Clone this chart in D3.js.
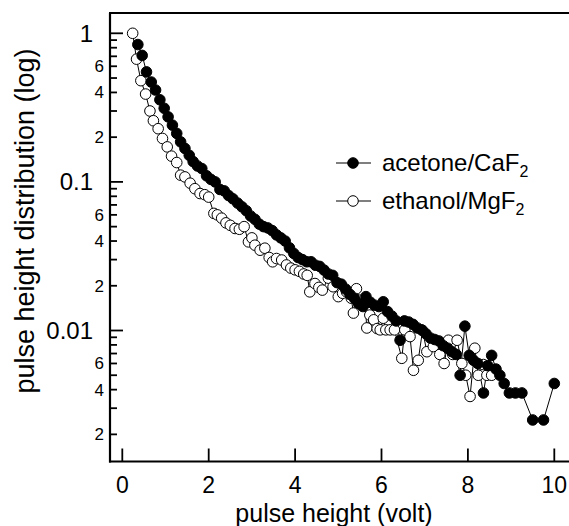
<!DOCTYPE html>
<html>
<head>
<meta charset="utf-8">
<script src="https://cdn.jsdelivr.net/npm/d3@7"></script>
<style>
  body { margin: 0; background: #fff; }
  svg { display: block; font-family: "Liberation Sans", Arial, Helvetica, sans-serif; }
</style>
</head>
<body>
<svg width="569" height="526"></svg>
<script>
"use strict"

// acetone / CaF2 (filled) : [pulse height (V), distribution]
const acetone = [
  [0.36,0.84],[0.46,0.71],[0.56,0.55],[0.67,0.47],[0.77,0.415],[0.87,0.357],[0.97,0.313],
  [1.06,0.274],[1.16,0.241],[1.26,0.212],[1.35,0.186],[1.45,0.168],[1.55,0.151],[1.64,0.137],
  [1.74,0.128],[1.84,0.123],[1.95,0.11],[2.05,0.104],[2.15,0.1],[2.26,0.089],[2.36,0.087],
  [2.46,0.081],[2.56,0.077],[2.67,0.072],[2.77,0.068],[2.87,0.064],[2.97,0.059],[3.07,0.056],
  [3.17,0.052],[3.27,0.05],[3.37,0.049],[3.47,0.047],[3.57,0.044],[3.67,0.042],[3.77,0.04],
  [3.87,0.036],[3.97,0.033],[4.07,0.031],[4.17,0.03],[4.27,0.029],[4.37,0.029],[4.47,0.0275],
  [4.57,0.027],[4.67,0.0255],[4.77,0.024],[4.87,0.0235],[4.97,0.021],[5.07,0.0205],[5.17,0.019],
  [5.27,0.0175],[5.37,0.0165],[5.47,0.0152],[5.57,0.0145],[5.64,0.0169],[5.74,0.0155],[5.84,0.0148],
  [5.94,0.0145],[6.04,0.0156],[6.14,0.0134],[6.24,0.0125],[6.34,0.0116],[6.43,0.0086],[6.53,0.0116],
  [6.63,0.0114],[6.73,0.011],[6.83,0.0104],[6.93,0.0101],[7.03,0.0095],[7.13,0.0089],[7.23,0.0087],
  [7.33,0.0085],[7.43,0.0079],[7.53,0.0076],[7.63,0.0072],[7.73,0.0069],[7.82,0.005],[7.93,0.0107],
  [8.03,0.0068],[8.13,0.0063],[8.23,0.006],[8.36,0.0038],[8.46,0.0058],[8.55,0.0068],[8.65,0.0055],
  [8.74,0.005],[8.84,0.0044],[8.96,0.0038],[9.1,0.0038],[9.25,0.0038],[9.5,0.0025],[9.75,0.0025],
  [10.0,0.0044]
]

// ethanol / MgF2 (open)
const ethanol = [
  [0.24,1.0],[0.33,0.67],[0.43,0.48],[0.54,0.39],[0.64,0.30],[0.72,0.258],[0.83,0.228],
  [0.93,0.196],[1.04,0.172],[1.14,0.149],[1.26,0.135],[1.35,0.111],[1.45,0.108],[1.57,0.098],
  [1.68,0.09],[1.8,0.0835],[1.91,0.082],[2.0,0.079],[2.12,0.0614],[2.2,0.06],[2.3,0.057],
  [2.4,0.053],[2.5,0.051],[2.61,0.0486],[2.71,0.048],[2.82,0.05],[2.92,0.0395],[3.0,0.042],
  [3.07,0.0375],[3.19,0.0347],[3.3,0.0358],[3.4,0.031],[3.48,0.029],[3.57,0.0305],[3.69,0.0298],
  [3.8,0.0276],[3.9,0.0263],[4.0,0.0256],[4.1,0.025],[4.2,0.024],[4.28,0.0235],[4.34,0.0182],
  [4.46,0.0207],[4.55,0.0195],[4.63,0.0187],[4.77,0.0225],[4.88,0.0197],[5.0,0.0169],[5.1,0.0178],
  [5.19,0.0182],[5.3,0.0165],[5.35,0.0131],[5.42,0.0191],[5.5,0.016],[5.62,0.0152],[5.66,0.0104],
  [5.73,0.0127],[5.82,0.0118],[5.9,0.0103],[5.97,0.0101],[6.04,0.0121],[6.1,0.0101],[6.2,0.0101],
  [6.3,0.0101],[6.47,0.0065],[6.54,0.0101],[6.66,0.0091],[6.74,0.0054],[6.85,0.0063],[6.95,0.01],
  [7.05,0.0072],[7.2,0.0078],[7.35,0.0069],[7.45,0.006],[7.55,0.0086],[7.65,0.0069],[7.75,0.0086],
  [7.86,0.006],[7.95,0.005],[8.05,0.0036],[8.16,0.0076],[8.24,0.005],[8.36,0.0059],[8.44,0.005],
  [8.55,0.005]
]

const xTicks = [0, 2, 4, 6, 8, 10]
const yMajor = [1, 0.1, 0.01]
const yMinor = [0.2, 0.3, 0.4, 0.5, 0.6, 0.7, 0.8, 0.9,
                0.02, 0.03, 0.04, 0.05, 0.06, 0.07, 0.08, 0.09,
                0.002, 0.003, 0.004, 0.005, 0.006, 0.007, 0.008, 0.009]
const yMinorLabels = [
  {v: 0.6, t: "6"}, {v: 0.4, t: "4"}, {v: 0.2, t: "2"},
  {v: 0.06, t: "6"}, {v: 0.04, t: "4"}, {v: 0.02, t: "2"},
  {v: 0.006, t: "6"}, {v: 0.004, t: "4"}, {v: 0.002, t: "2"}
]
const legendItems = [
  {name: "acetone/CaF", sub: "2", fill: "#000"},
  {name: "ethanol/MgF", sub: "2", fill: "#fff"}
]

const svg = d3.select("svg")
const plotLeft = 110, plotBottom = 461.5, plotTop = 13, plotRight = 569

const x = d3.scaleLinear().domain([0, 10]).range([122.3, 554.3])
const y = d3.scaleLog().domain([0.01, 1]).range([330.5, 33.3])

// frame: left, bottom and top lines
svg.append("line").attr("x1", plotLeft).attr("x2", plotLeft).attr("y1", plotTop).attr("y2", plotBottom + 1)
  .attr("stroke", "#000").attr("stroke-width", 2.2)
svg.append("line").attr("x1", plotLeft - 1).attr("x2", plotRight).attr("y1", plotBottom).attr("y2", plotBottom)
  .attr("stroke", "#000").attr("stroke-width", 2.2)
svg.append("line").attr("x1", plotLeft - 1).attr("x2", plotRight).attr("y1", plotTop).attr("y2", plotTop)
  .attr("stroke", "#000").attr("stroke-width", 2.2)

// x ticks (inward)
const xAxis = svg.append("g")
xAxis.selectAll("line").data(xTicks).enter().append("line")
  .attr("x1", d => x(d)).attr("x2", d => x(d))
  .attr("y1", plotBottom).attr("y2", plotBottom - 13)
  .attr("stroke", "#000").attr("stroke-width", 1.8)
xAxis.selectAll("text").data(xTicks).enter().append("text")
  .attr("x", d => x(d)).attr("y", 493)
  .attr("text-anchor", "middle").style("font-size", "23px")
  .text(d => d)

// y ticks (inward)
const yAxis = svg.append("g")
yAxis.selectAll("line.maj").data(yMajor).enter().append("line")
  .attr("class", "maj")
  .attr("x1", plotLeft).attr("x2", plotLeft + 13)
  .attr("y1", d => y(d)).attr("y2", d => y(d))
  .attr("stroke", "#000").attr("stroke-width", 1.8)
yAxis.selectAll("line.min").data(yMinor.filter(d => y(d) > plotTop && y(d) < plotBottom)).enter().append("line")
  .attr("class", "min")
  .attr("x1", plotLeft).attr("x2", plotLeft + 7)
  .attr("y1", d => y(d)).attr("y2", d => y(d))
  .attr("stroke", "#000").attr("stroke-width", 1.8)
yAxis.selectAll("text.maj").data(yMajor).enter().append("text")
  .attr("class", "maj")
  .attr("x", 93).attr("y", d => y(d)).attr("dy", "0.35em")
  .attr("text-anchor", "end").style("font-size", "24px")
  .text(d => d)
yAxis.selectAll("text.min").data(yMinorLabels).enter().append("text")
  .attr("class", "min")
  .attr("x", 104).attr("y", d => y(d.v)).attr("dy", "0.35em")
  .attr("text-anchor", "end").style("font-size", "17px")
  .text(d => d.t)

// axis titles
svg.append("text")
  .attr("transform", "translate(34,221) rotate(-90)")
  .attr("text-anchor", "middle").style("font-size", "27px")
  .text("pulse height distribution (log)")
svg.append("text")
  .attr("x", 334).attr("y", 522)
  .attr("text-anchor", "middle").style("font-size", "25px")
  .text("pulse height (volt)")

// series: lines first, then markers
const line = d3.line().x(d => x(d[0])).y(d => y(d[1]))
const series = [
  {data: ethanol, fill: "#fff"},
  {data: acetone, fill: "#000"}
]
series.forEach(s => {
  svg.append("path").datum(s.data)
    .attr("d", line).attr("fill", "none").attr("stroke", "#000").attr("stroke-width", 1)
})
series.forEach(s => {
  svg.append("g").selectAll("circle").data(s.data).enter().append("circle")
    .attr("cx", d => x(d[0])).attr("cy", d => y(d[1])).attr("r", 5.3)
    .attr("fill", s.fill).attr("stroke", "#000").attr("stroke-width", 1)
})

// legend
const legend = svg.append("g")
legendItems.forEach((it, i) => {
  const ly = 163 + i * 38
  legend.append("line").attr("x1", 336).attr("x2", 371).attr("y1", ly).attr("y2", ly)
    .attr("stroke", "#000").attr("stroke-width", 1.2)
  legend.append("circle").attr("cx", 353).attr("cy", ly).attr("r", 5.3)
    .attr("fill", it.fill).attr("stroke", "#000").attr("stroke-width", 1)
  const t = legend.append("text").attr("x", 382).attr("y", ly).attr("dy", "0.35em")
    .style("font-size", "24px")
  t.append("tspan").text(it.name)
  t.append("tspan").attr("dy", 6).style("font-size", "16px").text(it.sub)
})
</script>
</body>
</html>
